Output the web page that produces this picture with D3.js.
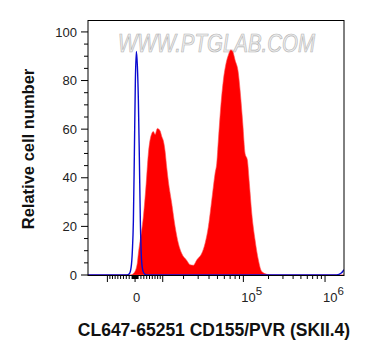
<!DOCTYPE html>
<html>
<head>
<meta charset="utf-8">
<script src="https://cdn.jsdelivr.net/npm/d3@7"></script>
<style>
  html, body { margin: 0; padding: 0; background: #fff; }
  svg { display: block; }
  text { font-family: "Liberation Sans", Arial, sans-serif; }
</style>
</head>
<body>
<svg id="chart" width="377" height="360"></svg>
<script>
// ---------------- DATA ----------------
// Fluorescence intensity (biexponential axis) and relative cell number
const redX = [-19200, -1363, -681, 0, 443, 784, 1125, 1706, 2222, 2841, 3780, 4592, 5811, 6391, 7022, 7891, 8935, 9612, 10257, 10963, 11700, 12379, 13915, 15493, 17163, 18988, 21925, 24056, 26337, 28876, 33007, 36034, 39340, 43028, 46949, 49097, 51213, 54571, 58475, 62839, 66793, 71211, 75126, 79919, 87325, 91435, 98386, 104740, 111484, 117745, 125739, 137689, 150826, 165685, 190464, 220850, 1730000];
const redY = [0, 0, 0.5, 1.5, 3, 5, 8.8, 14, 18, 24, 37, 50, 58.2, 59, 57.8, 60.3, 59.3, 57, 55.2, 51, 44, 38.5, 29.4, 20, 13, 8.8, 6, 4.2, 4.0, 6.2, 8.9, 13, 19.9, 30.9, 41.8, 46, 55.5, 69.2, 80.2, 87.1, 90.5, 92.6, 91.9, 88.4, 83, 76.1, 62.4, 50, 47.3, 37.7, 25.4, 14.4, 6.2, 1.4, 0.3, 0, 0];

const blueX = [-19200, -2738, -1947, -1363, -921, -579, -238, 102, 443, 784, 1125, 1466, 1808, 2222, 2738, 3435, 4485, 1400000, 1600000, 1730000];
const blueY = [0, 0, 0.5, 3, 10, 22, 50, 80, 92, 86, 72, 48, 22, 6, 1.5, 0.3, 0, 0, 0.8, 2.2];

const xDomain = [-19200, 1730000];
const yDomain = [0, 104.7];
const yMajorTicks = [0, 20, 40, 60, 80, 100];
const yMinorTicks = [5, 10, 15, 25, 30, 35, 45, 50, 55, 65, 70, 75, 85, 90, 95];
const xMajorTicks = [-10000, 0, 10000, 100000, 1000000];
const xMinorTicks = [
  -9000, -8000, -7000, -6000, -5000, -4000, -3000, -2000, -1000,
  -900, -800, -700, -600, -500, -400, -300, -200, -100,
  100, 200, 300, 400, 500, 600, 700, 800, 900,
  1000, 2000, 3000, 4000, 5000, 6000, 7000, 8000, 9000,
  20000, 30000, 40000, 50000, 60000, 70000, 80000, 90000,
  200000, 300000, 400000, 500000, 600000, 700000, 800000, 900000
];
const xTickLabels = [
  { value: 0, base: "0", exp: "" },
  { value: 100000, base: "10", exp: "5" },
  { value: 1000000, base: "10", exp: "6" }
];
const yTickLabels = ["0", "20", "40", "60", "80", "100"];
const xTitle = "CL647-65251 CD155/PVR (SKII.4)";
const yTitle = "Relative cell number";
const watermark = "WWW.PTGLAB.COM";

// ---------------- BIEXPONENTIAL TRANSFORM ----------------
const BC = 3896, BP = 2;
function biexForward(v) { // display units (decades) -> intensity
  const s = Math.sign(v), a = Math.abs(v);
  return s * BC * (Math.pow(10, a) - BP * BP * Math.pow(10, -a / BP) + BP * BP - 1);
}
function biexInverse(x) { // intensity -> display units
  let lo = -8, hi = 8;
  for (let i = 0; i < 80; i++) {
    const mid = (lo + hi) / 2;
    if (biexForward(mid) < x) lo = mid; else hi = mid;
  }
  return (lo + hi) / 2;
}

// ---------------- LAYOUT ----------------
const L = 88, R = 344, T = 20.5, B = 275.5;
const svg = d3.select("#chart");

const xLin = d3.scaleLinear().domain(xDomain.map(biexInverse)).range([L, R]);
const X = d => xLin(biexInverse(d));
const Y = d3.scaleLinear().domain(yDomain).range([275, T]);

// watermark
svg.append("text")
  .attr("x", 118).attr("y", 52)
  .attr("textLength", 197).attr("lengthAdjust", "spacingAndGlyphs")
  .attr("font-size", 25).attr("font-style", "italic")
  .attr("fill", "#eeeeee").attr("stroke", "#b5b5b5").attr("stroke-width", 0.7)
  .text(watermark);

// clip
svg.append("clipPath").attr("id", "plotclip")
  .append("rect").attr("x", L).attr("y", T).attr("width", R - L).attr("height", B - T);

const g = svg.append("g").attr("clip-path", "url(#plotclip)");

const redData = redX.map((x, i) => [x, redY[i]]);
const blueData = blueX.map((x, i) => [x, blueY[i]]);

g.append("path")
  .datum(redData)
  .attr("fill", "#ff0000")
  .attr("stroke", "#ff5050").attr("stroke-width", 0.6)
  .attr("d", d3.area().x(d => X(d[0])).y0(Y(0)).y1(d => Y(d[1])).curve(d3.curveMonotoneX));

g.append("path")
  .datum(blueData)
  .attr("fill", "none")
  .attr("stroke", "#0a0ad0").attr("stroke-width", 1.4)
  .attr("d", d3.line().x(d => X(d[0])).y(d => Y(d[1])).curve(d3.curveMonotoneX));

// frame
svg.append("rect")
  .attr("x", L).attr("y", T).attr("width", R - L).attr("height", B - T)
  .attr("fill", "none").attr("stroke", "#000").attr("stroke-width", 1);

// y ticks
svg.selectAll(".ymaj").data(yMajorTicks).enter().append("line")
  .attr("x1", L - 7).attr("x2", L).attr("y1", d => Y(d)).attr("y2", d => Y(d))
  .attr("stroke", "#000").attr("stroke-width", 1);
svg.selectAll(".ymin").data(yMinorTicks).enter().append("line")
  .attr("x1", L - 4).attr("x2", L).attr("y1", d => Y(d)).attr("y2", d => Y(d))
  .attr("stroke", "#000").attr("stroke-width", 1);
svg.selectAll(".ylab").data(yMajorTicks).enter().append("text")
  .attr("x", 77).attr("y", d => Y(d)).attr("dy", "0.36em")
  .attr("text-anchor", "end").attr("font-size", 13).attr("fill", "#222")
  .text((d, i) => yTickLabels[i]);

// x ticks
const inRange = d => d >= xDomain[0] && d <= xDomain[1];
svg.selectAll(".xmaj").data(xMajorTicks.filter(inRange)).enter().append("line")
  .attr("x1", d => X(d)).attr("x2", d => X(d)).attr("y1", B).attr("y2", B + 6.5)
  .attr("stroke", "#000").attr("stroke-width", 1);
svg.selectAll(".xmin").data(xMinorTicks.filter(inRange)).enter().append("line")
  .attr("x1", d => X(d)).attr("x2", d => X(d)).attr("y1", B).attr("y2", B + 3.5)
  .attr("stroke", "#000").attr("stroke-width", 1);

xTickLabels.forEach(t => {
  const tx = svg.append("text").attr("font-size", 13).attr("fill", "#222").attr("y", 301.5);
  if (t.exp === "") {
    tx.attr("x", X(t.value) + 1.5).attr("text-anchor", "middle").text(t.base);
  } else {
    tx.attr("x", X(t.value) - 2).attr("text-anchor", "start");
    tx.append("tspan").text(t.base);
    tx.append("tspan").attr("dy", -7).attr("font-size", 11.5).text(t.exp);
  }
});

// axis titles
svg.append("text")
  .attr("x", 214).attr("y", 336)
  .attr("text-anchor", "middle").attr("font-size", 17.5).attr("font-weight", "bold").attr("fill", "#111")
  .text(xTitle);
svg.append("text")
  .attr("transform", "translate(33.5,149) rotate(-90)")
  .attr("text-anchor", "middle").attr("font-size", 16.5).attr("font-weight", "bold").attr("fill", "#111")
  .text(yTitle);
</script>
</body>
</html>
